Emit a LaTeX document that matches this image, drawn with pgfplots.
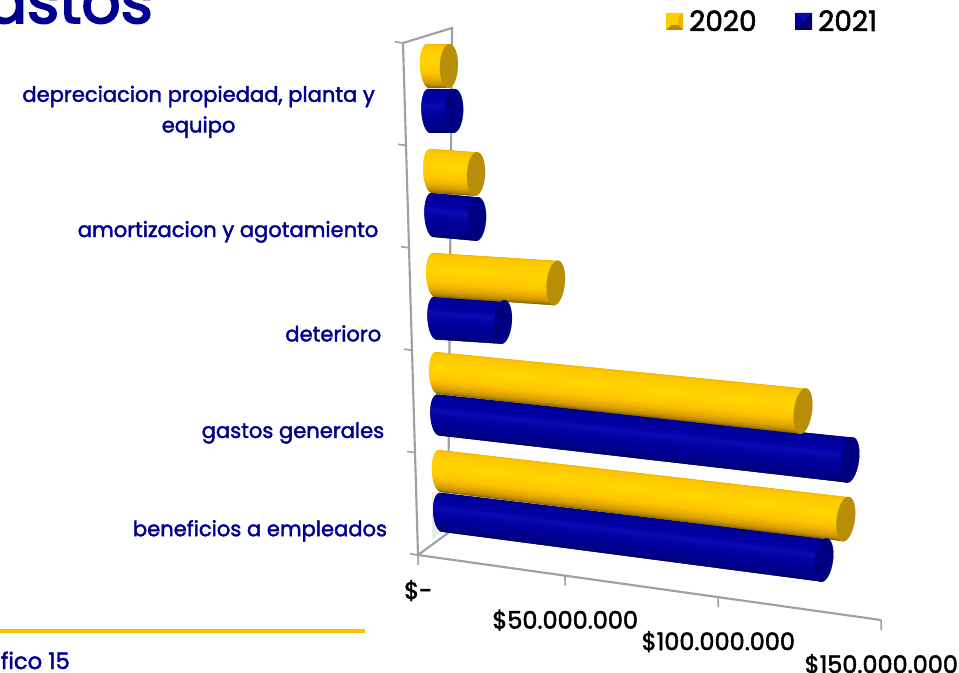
\documentclass[border=0pt]{standalone}
\usepackage{fontspec}
\usepackage{pgfplots}
\pgfplotsset{compat=1.18}
\setmainfont{Poppins}[FakeBold=2]
\newfontfamily\titlef{Poppins}[FakeBold=3]
\definecolor{tblue}{HTML}{000090}
\definecolor{axgray}{HTML}{A0A0A0}
\definecolor{rule}{HTML}{FFC000}
\definecolor{Y0}{HTML}{E8B000}\definecolor{Y1}{HTML}{FAC000}\definecolor{Y2}{HTML}{FFC800}\definecolor{Y3}{HTML}{FFCC00}
\definecolor{Y4}{HTML}{FFD000}\definecolor{Y5}{HTML}{FFD400}\definecolor{Y6}{HTML}{FFCE00}\definecolor{Y7}{HTML}{FFC600}
\definecolor{Y8}{HTML}{F0B400}\definecolor{Y9}{HTML}{D8A000}\definecolor{Y10}{HTML}{B88800}\definecolor{Y11}{HTML}{8C6A00}
\definecolor{B0}{HTML}{000078}\definecolor{B1}{HTML}{00008C}\definecolor{B2}{HTML}{000098}\definecolor{B3}{HTML}{00009E}
\definecolor{B4}{HTML}{0000A6}\definecolor{B5}{HTML}{0A0AB0}\definecolor{B6}{HTML}{0404A6}\definecolor{B7}{HTML}{00009C}
\definecolor{B8}{HTML}{000094}\definecolor{B9}{HTML}{00008A}\definecolor{B10}{HTML}{00007C}\definecolor{B11}{HTML}{00006A}
\definecolor{Ycap}{HTML}{B88E08}
\definecolor{Bcap}{HTML}{000082}
% value, row at base, row at end, thickness at base (px), thickness at end (px), palette, lean
\newcommand\cyl[7]{%
 \foreach \j in {0,...,23}{%
  \pgfmathtruncatemacro\ja{int(\j/2)}%
  \pgfmathtruncatemacro\jb{min(11,int((\j+1)/2))}%
  \pgfmathsetmacro\ta{7.5*\j}%
  \pgfmathsetmacro\tb{min(180,7.5*(\j+2))}%
  \pgfmathsetmacro\ua{cos(\ta)}%
  \pgfmathsetmacro\ub{cos(\tb)}%
  \pgfmathsetmacro\sa{-2.6*sin(\ta)}%
  \pgfmathsetmacro\sb{-2.6*sin(\tb)}%
  \pgfmathsetmacro\lnb{tan(#7)*(#5)/2/3.087}%
  \pgfmathsetmacro\ra{#2+(#4)/204.8*\ua}%
  \pgfmathsetmacro\rb{#2+(#4)/204.8*\ub}%
  \pgfmathsetmacro\rc{#3+(#5)/204.8*\ua}%
  \pgfmathsetmacro\rd{#3+(#5)/204.8*\ub}%
  \pgfmathsetmacro\va{#1+\lnb*\ua}%
  \pgfmathsetmacro\vb{#1+\lnb*\ub}%
  \edef\temp{\noexpand\addplot[forget plot,draw=none,fill=#6\ja!50!#6\jb,xshift=18pt,yshift=8.25pt] coordinates {(\sa,\ra)(\va,\rc)(\vb,\rd)(\sb,\rb)} -- cycle;}\temp
 }%
 \pgfmathsetmacro\msz{(#5)/2*.75}%
 \pgfmathsetmacro\xs{9/((#5)/2)}%
 \edef\temp{\noexpand\addplot[forget plot,only marks,mark=*,mark size=\msz pt,mark options={rotate=-#7,xscale=\xs,fill=#6cap,draw=#6cap,line width=.1pt},xshift=18pt,yshift=8.25pt] coordinates {(#1,#3)};}\temp
}
\begin{document}
\begin{tikzpicture}
\begin{scope}[x=0.75pt,y=-0.75pt]
\path[use as bounding box] (0,0) rectangle (959,673);
\clip (0,0) rectangle (959,673);
\fill[black!8] (432,492)--(447,492)--(447,527)--(432,540)--cycle;
\draw[axgray,line width=1.6pt] (418,555)--(448,533)--(452,28)--(403,43);
\end{scope}
\clip (0,0) rectangle (719.25pt,-504.75pt);
\begin{axis}[
  at={(313.5pt,-416.25pt)},anchor=origin,
  x={(2.315pt,-0.325pt)},y={(-2.25pt,76.8pt)},
  xmin=0,xmax=150,ymin=0,ymax=5,clip=false,
  axis lines=left,
  axis line style={-,axgray,line width=1.6pt},
  xtick={0,47.6,97.2,150},
  xticklabels={\raisebox{6.75pt}[\height][\depth]{\$-},\$50.000.000,\$100.000.000,\$150.000.000},
  ytick={0.222,1.178,2.15,3.142,4.314},
  yticklabels={beneficios a empleados,gastos generales,deterioro,amortizacion y agotamiento,{depreciacion propiedad, planta y\\equipo}},
  minor ytick={0,1,2,3,4,5},
  tick align=outside,
  tick style={axgray,line width=1.2pt},
  every major y tick/.style={draw=none},
  major tick length=7.5pt,minor tick length=6pt,
  xticklabel style={anchor=north,yshift=-14.5pt,font=\fontsize{18}{20}\selectfont,text=black},
  yticklabel style={anchor=east,xshift=-11.75pt,font=\fontsize{15.8}{23}\selectfont,text=tblue,align=center},
]
\cyl{124.1}{0.31}{0.368}{39}{44}{B}{8}
\cyl{131.6}{0.713}{0.80}{42}{45}{Y}{8}
\cyl{133.5}{1.26}{1.385}{41}{46}{B}{8}
\cyl{118.7}{1.67}{1.80}{42}{46}{Y}{8}
\cyl{21.9}{2.207}{2.26}{43}{44}{B}{5}
\cyl{39.5}{2.627}{2.716}{44}{45}{Y}{6}
\cyl{14.5}{3.213}{3.235}{44}{44}{B}{3}
\cyl{14.6}{3.643}{3.675}{44}{44}{Y}{3}
\cyl{8.1}{4.229}{4.263}{44}{44}{B}{2}
\cyl{6.8}{4.668}{4.696}{44}{44}{Y}{2}
\end{axis}
\begin{scope}[x=0.75pt,y=-0.75pt]
\node[anchor=base east,text=tblue,inner sep=0pt,font=\titlef\fontsize{46}{48}\selectfont] at (153,23) {Gastos};
\fill[rule] (0,629) rectangle (365,633);
\node[anchor=base east,text=tblue,inner sep=0pt,font=\fontsize{17}{18}\selectfont] at (70,669) {Gráfico 15};
% legend
\fill[Y4] (666,13) rectangle (683,30);
\fill[Y3] (666,13)--(683,13)--(678,18)--(671,18)--cycle;
\fill[Y8] (683,13)--(683,30)--(678,25)--(678,18)--cycle;
\fill[Y10] (666,30)--(683,30)--(678,25)--(671,25)--cycle;
\fill[B4] (795,13) rectangle (812,30);
\fill[B5] (795,13)--(812,13)--(803.5,21.5)--cycle;
\fill[B0] (812,13)--(812,30)--(803.5,21.5)--cycle;
\fill[B11] (795,30)--(812,30)--(803.5,21.5)--cycle;
\node[anchor=base west,inner sep=0pt,font=\fontsize{21}{24}\selectfont] at (689,31) {2020};
\node[anchor=base west,inner sep=0pt,font=\fontsize{21}{24}\selectfont] at (818,31) {2021};
\end{scope}
\end{tikzpicture}
\end{document}
